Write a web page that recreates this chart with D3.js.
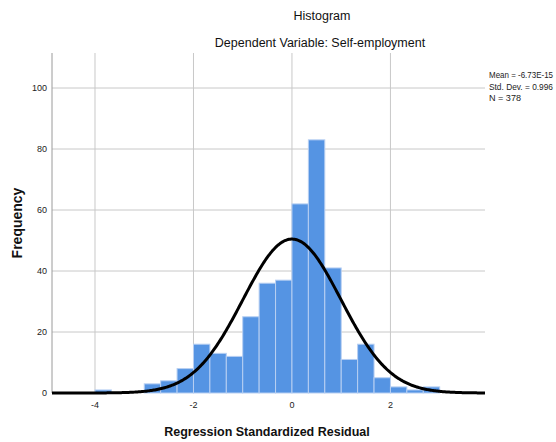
<!DOCTYPE html>
<html><head><meta charset="utf-8">
<script src="https://cdn.jsdelivr.net/npm/d3@7"></script>
<style>body{margin:0;background:#fff}svg{display:block;font-family:"Liberation Sans",Arial,sans-serif}</style>
</head><body><svg id="c" width="556" height="442"></svg>
<script>
const binStarts = [-4, -3, -2.6667, -2.3333, -2, -1.6667, -1.3333, -1, -0.6667, -0.3333, 0, 0.3333, 0.6667, 1, 1.3333, 1.6667, 2, 2.3333, 2.6667];
const counts = [1, 3, 4, 8, 16, 13, 12, 25, 36, 37, 62, 83, 41, 11, 16, 5, 2, 1, 2];
const binWidth = 1/3;
const xTicks = [-4, -2, 0, 2];
const yTicks = [0, 20, 40, 60, 80, 100];
const stats = {mean: -6.73e-15, sd: 0.996, n: 378};
const legendLines = ["Mean = -6.73E-15", "Std. Dev. = 0.996", "N = 378"];

const svg = d3.select("#c");
const L = 52, R = 485, T = 53, B = 393;
const x = d3.scaleLinear().domain([-4.873, 3.92]).range([L, R]);
const y = d3.scaleLinear().domain([0, 100]).range([B, 88]);

// grid
svg.append("g").selectAll("line").data(xTicks).join("line")
  .attr("x1", d => x(d)).attr("x2", d => x(d)).attr("y1", T).attr("y2", B)
  .attr("stroke", "#c8c8c8").attr("stroke-width", 1);
svg.append("g").selectAll("line").data(yTicks.filter(d => d > 0)).join("line")
  .attr("x1", L).attr("x2", R).attr("y1", d => y(d)).attr("y2", d => y(d))
  .attr("stroke", "#c8c8c8").attr("stroke-width", 1);

// bars
svg.append("g").selectAll("rect").data(binStarts.map((s, i) => ({s, c: counts[i]}))).join("rect")
  .attr("x", d => x(d.s)).attr("width", d => x(d.s + binWidth) - x(d.s))
  .attr("y", d => y(d.c)).attr("height", d => B - y(d.c))
  .attr("fill", "#5594e3").attr("stroke", "#b7cff2").attr("stroke-width", 1);

// y axis line
svg.append("line").attr("x1", L).attr("x2", L).attr("y1", T).attr("y2", B)
  .attr("stroke", "#9a9a9a").attr("stroke-width", 1);

// normal curve
const pts = d3.range(0, 401).map(i => {
  const xv = x.domain()[0] + (x.domain()[1] - x.domain()[0]) * i / 400;
  const z = (xv - stats.mean) / stats.sd;
  const f = stats.n * binWidth * Math.exp(-0.5 * z * z) / (stats.sd * Math.sqrt(2 * Math.PI));
  return [xv, f];
});
svg.append("path").datum(pts)
  .attr("d", d3.line().x(d => x(d[0])).y(d => y(d[1])))
  .attr("fill", "none").attr("stroke", "#000").attr("stroke-width", 3);

// tick labels
svg.append("g").selectAll("text").data(yTicks).join("text")
  .attr("x", L - 5).attr("y", d => y(d) + 3).attr("text-anchor", "end")
  .attr("font-size", 9).attr("fill", "#222").text(d => d);
svg.append("g").selectAll("text").data(xTicks).join("text")
  .attr("x", d => x(d)).attr("y", 408).attr("text-anchor", "middle")
  .attr("font-size", 9).attr("fill", "#222").text(d => d);

// titles
svg.append("text").attr("x", 322).attr("y", 20).attr("text-anchor", "middle")
  .attr("font-size", 12.5).attr("fill", "#111").text("Histogram");
svg.append("text").attr("x", 320).attr("y", 47).attr("text-anchor", "middle")
  .attr("font-size", 12.5).attr("fill", "#111").text("Dependent Variable: Self-employment");

// axis labels
svg.append("text").attr("x", 267).attr("y", 436).attr("text-anchor", "middle")
  .attr("font-size", 12.5).attr("font-weight", "bold").attr("fill", "#111")
  .text("Regression Standardized Residual");
svg.append("text").attr("transform", "translate(22,223) rotate(-90)").attr("text-anchor", "middle")
  .attr("font-size", 14).attr("font-weight", "bold").attr("fill", "#111").text("Frequency");

// legend
svg.append("g").selectAll("text").data(legendLines).join("text")
  .attr("x", 489).attr("y", (d, i) => 78 + i * 11.5)
  .attr("font-size", 8.5).attr("fill", "#222")
  .attr("textLength", (d, i) => [64, 64, 32][i]).attr("lengthAdjust", "spacingAndGlyphs")
  .text(d => d);
</script></body></html>
